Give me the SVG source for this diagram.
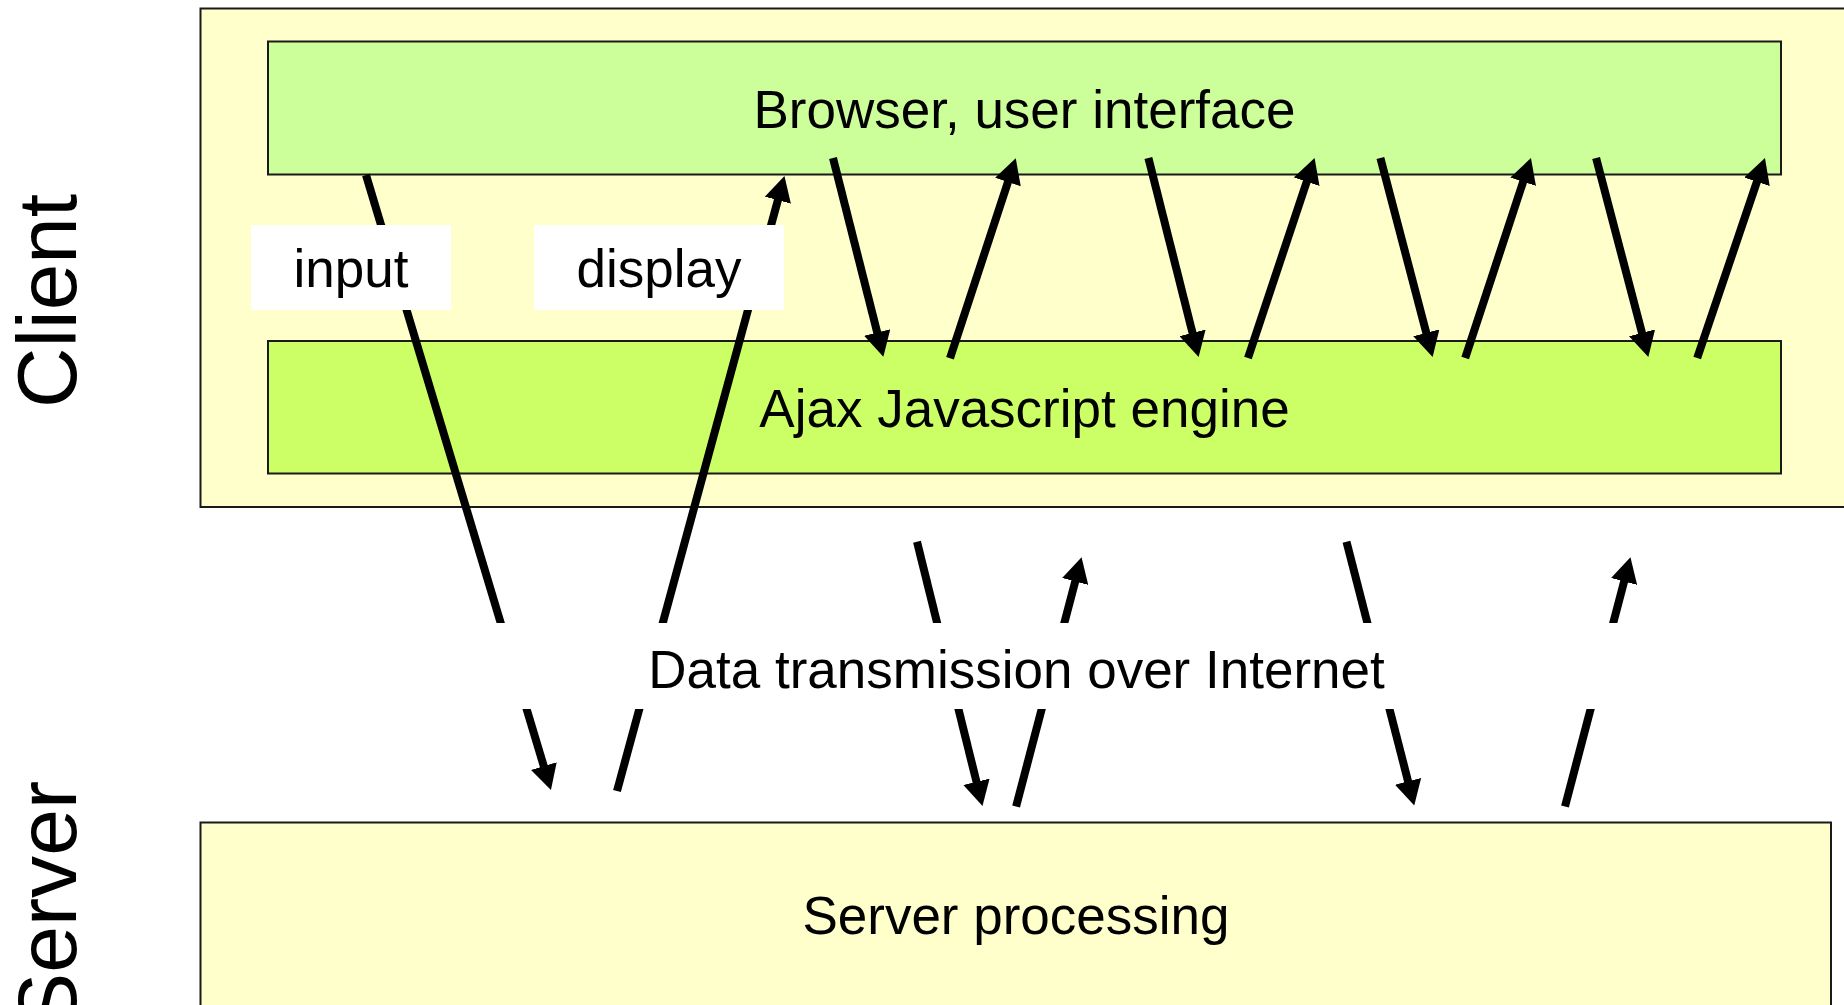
<svg xmlns="http://www.w3.org/2000/svg" width="1844" height="1005" viewBox="0 0 1844 1005">
  <style>
    .box { stroke: #1a1a1a; stroke-width: 2; }
    .txt { font-family: "Liberation Sans", Arial, sans-serif; font-size: 53px; fill: #000; text-anchor: middle; }
    .side { font-family: "Liberation Sans", Arial, sans-serif; font-size: 84px; fill: #000; }
    .conn { stroke: #000; stroke-width: 8; fill: none; marker-end: url(#ah); }
    .lbl { fill: #fff; }
  </style>
  <defs>
    <marker id="ah" viewBox="0 0 25 27" refX="13" refY="13.5" markerWidth="25" markerHeight="27" markerUnits="userSpaceOnUse" orient="auto">
      <path d="M0,0 L25,13.5 L0,27 z" fill="#000"/>
    </marker>
  </defs>

  <rect width="1844" height="1005" fill="#fff"/>

  <g id="client">
    <rect class="box" x="200.5" y="8.5" width="1660" height="498.5" fill="#FFFFCC"/>
    <text class="side" transform="translate(76,301) rotate(-90)" text-anchor="middle" textLength="214" lengthAdjust="spacingAndGlyphs">Client</text>
  </g>

  <g id="browser">
    <rect class="box" x="268" y="41.5" width="1513" height="133" fill="#CCFF99"/>
    <text class="txt" x="1024.5" y="128">Browser, user interface</text>
  </g>

  <g id="ajax">
    <rect class="box" x="268" y="341" width="1513" height="132.5" fill="#CCFF66"/>
    <text class="txt" x="1024.5" y="427">Ajax Javascript engine</text>
  </g>

  <g id="server">
    <rect class="box" x="200.5" y="822.5" width="1630.5" height="200" fill="#FFFFCC"/>
    <text class="txt" x="1016" y="934">Server processing</text>
    <text class="side" transform="translate(76,781) rotate(-90)" text-anchor="end" textLength="248" lengthAdjust="spacingAndGlyphs">Server</text>
  </g>

  <g id="connectors">
    <line class="conn" x1="833" y1="158" x2="880.4" y2="345.1"/>
    <line class="conn" x1="950" y1="358.3" x2="1012" y2="169.7"/>
    <line class="conn" x1="1148.4" y1="158" x2="1195.7" y2="345.4"/>
    <line class="conn" x1="1248" y1="358" x2="1310.8" y2="169.4"/>
    <line class="conn" x1="1380.4" y1="158" x2="1429.6" y2="345.4"/>
    <line class="conn" x1="1465.2" y1="358" x2="1527.2" y2="169.4"/>
    <line class="conn" x1="1596.1" y1="158" x2="1645.3" y2="345.4"/>
    <line class="conn" x1="1697.2" y1="358" x2="1761.1" y2="169.4"/>

    <line class="conn" x1="366" y1="175" x2="547.5" y2="778.5"/>
    <line class="conn" x1="617" y1="791" x2="781.3" y2="187.6"/>
    <line class="conn" x1="917" y1="541.7" x2="979.6" y2="794.4"/>
    <line class="conn" x1="1016.1" y1="806.5" x2="1078.5" y2="568.9"/>
    <line class="conn" x1="1346.5" y1="541.7" x2="1411.3" y2="793.9"/>
    <line class="conn" x1="1565" y1="806.5" x2="1627.4" y2="568.9"/>
  </g>

  <g id="label-input">
    <rect class="lbl" x="251" y="225" width="200" height="85"/>
    <text class="txt" x="351" y="287">input</text>
  </g>
  <g id="label-display">
    <rect class="lbl" x="534" y="225" width="250" height="85"/>
    <text class="txt" x="659" y="287">display</text>
  </g>
  <g id="label-internet">
    <rect class="lbl" x="450" y="623" width="1250" height="86"/>
    <text class="txt" x="1016.5" y="688">Data transmission over Internet</text>
  </g>
</svg>
